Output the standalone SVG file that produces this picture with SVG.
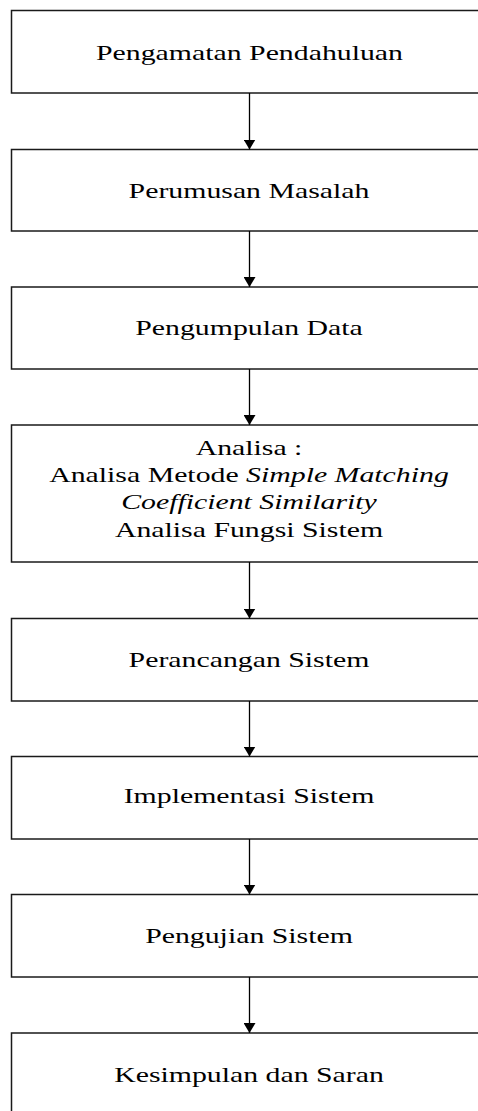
<svg xmlns="http://www.w3.org/2000/svg" width="478" height="1111" viewBox="0 0 478 1111">
<style>
.box{fill:#fff;stroke:#1a1a1a;stroke-width:1.5}
.lbl{font-family:"Liberation Serif","Times New Roman",serif;font-size:21px;fill:#000;text-anchor:middle}
.it{font-style:italic}
.con{stroke:#000;stroke-width:1.3;fill:none;marker-end:url(#ah)}
</style>
<defs>
<marker id="ah" viewBox="0 0 10 12" refX="10" refY="6" markerWidth="10" markerHeight="12" markerUnits="userSpaceOnUse" orient="auto">
<path d="M0,0 L10,6 L0,12 z" fill="#000"/>
</marker>
</defs>
<rect width="478" height="1111" fill="#fff"/>
<g id="n1"><rect class="box" x="11.5" y="10.5" width="480" height="82.5"/><text class="lbl" transform="translate(249.5 60) scale(1.42 1)">Pengamatan Pendahuluan</text></g>
<g id="n2"><rect class="box" x="11.5" y="149.5" width="480" height="81.5"/><text class="lbl" transform="translate(249 198) scale(1.42 1)">Perumusan Masalah</text></g>
<g id="n3"><rect class="box" x="11.5" y="287" width="480" height="82"/><text class="lbl" transform="translate(249 335) scale(1.42 1)">Pengumpulan Data</text></g>
<g id="n4"><rect class="box" x="11.5" y="425" width="480" height="137"/>
<text class="lbl" transform="translate(249 455) scale(1.42 1)">Analisa :</text>
<text class="lbl" transform="translate(249 482) scale(1.42 1)">Analisa Metode <tspan class="it">Simple Matching</tspan></text>
<text class="lbl it" transform="translate(249 508.5) scale(1.42 1)">Coefficient Similarity</text>
<text class="lbl" transform="translate(249 536.5) scale(1.42 1)">Analisa Fungsi Sistem</text>
</g>
<g id="n5"><rect class="box" x="11.5" y="618.5" width="480" height="82.5"/><text class="lbl" transform="translate(249 667) scale(1.42 1)">Perancangan Sistem</text></g>
<g id="n6"><rect class="box" x="11.5" y="756.5" width="480" height="82.5"/><text class="lbl" transform="translate(249 803) scale(1.42 1)">Implementasi Sistem</text></g>
<g id="n7"><rect class="box" x="11.5" y="894.5" width="480" height="82.5"/><text class="lbl" transform="translate(249 943) scale(1.42 1)">Pengujian Sistem</text></g>
<g id="n8"><rect class="box" x="11.5" y="1033" width="480" height="100"/><text class="lbl" transform="translate(249 1082) scale(1.42 1)">Kesimpulan dan Saran</text></g>
<g id="connectors">
<line class="con" x1="249.5" y1="93" x2="249.5" y2="149.5"/>
<line class="con" x1="249.5" y1="231" x2="249.5" y2="287"/>
<line class="con" x1="249.5" y1="369" x2="249.5" y2="425"/>
<line class="con" x1="249.5" y1="562" x2="249.5" y2="618.5"/>
<line class="con" x1="249.5" y1="701" x2="249.5" y2="756.5"/>
<line class="con" x1="249.5" y1="839" x2="249.5" y2="894.5"/>
<line class="con" x1="249.5" y1="977" x2="249.5" y2="1033"/>
</g>
</svg>
